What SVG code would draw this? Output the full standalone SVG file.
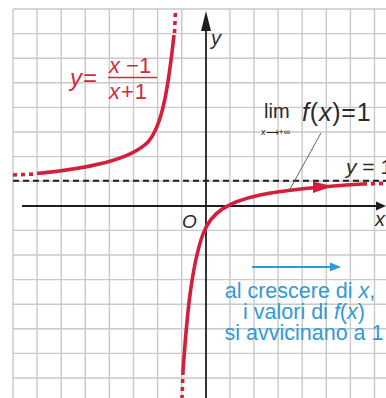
<svg xmlns="http://www.w3.org/2000/svg" width="386" height="398" viewBox="0 0 386 398">
<defs>
<style>
.grid line{stroke:#c9c9c9;stroke-width:1.4}
.axis{stroke:#1e1e1e;stroke-width:1.8;fill:none}
.curve{stroke:#d41f3c;stroke-width:3.6;fill:none;stroke-linecap:butt}
.dot{stroke:#d41f3c;stroke-width:3.6;fill:none;stroke-dasharray:4 4}
.t{font-family:"Liberation Sans",Arial,sans-serif}
.i{font-style:italic}
.red{fill:#d42a40}
.dark{fill:#2a2a2a}
.blue{fill:#3399d6}
</style>
</defs>
<rect width="386" height="398" fill="#ffffff"/>
<g id="grid" class="grid">
<line x1="13" y1="9" x2="13" y2="398"/><line x1="37.1" y1="9" x2="37.1" y2="398"/><line x1="61.2" y1="9" x2="61.2" y2="398"/><line x1="85.3" y1="9" x2="85.3" y2="398"/><line x1="109.4" y1="9" x2="109.4" y2="398"/><line x1="133.5" y1="9" x2="133.5" y2="398"/><line x1="157.6" y1="9" x2="157.6" y2="398"/><line x1="181.7" y1="9" x2="181.7" y2="398"/><line x1="229.9" y1="9" x2="229.9" y2="398"/><line x1="254" y1="9" x2="254" y2="398"/><line x1="278.1" y1="9" x2="278.1" y2="398"/><line x1="302.2" y1="9" x2="302.2" y2="398"/><line x1="326.3" y1="9" x2="326.3" y2="398"/><line x1="350.4" y1="9" x2="350.4" y2="398"/><line x1="374.5" y1="9" x2="374.5" y2="398"/>
<line x1="13" y1="9" x2="386" y2="9"/><line x1="13" y1="33.6" x2="386" y2="33.6"/><line x1="13" y1="58.2" x2="386" y2="58.2"/><line x1="13" y1="82.8" x2="386" y2="82.8"/><line x1="13" y1="107.4" x2="386" y2="107.4"/><line x1="13" y1="132" x2="386" y2="132"/><line x1="13" y1="156.6" x2="386" y2="156.6"/><line x1="13" y1="181.2" x2="386" y2="181.2"/><line x1="13" y1="230.4" x2="386" y2="230.4"/><line x1="13" y1="255" x2="386" y2="255"/><line x1="13" y1="279.6" x2="386" y2="279.6"/><line x1="13" y1="304.2" x2="386" y2="304.2"/><line x1="13" y1="328.8" x2="386" y2="328.8"/><line x1="13" y1="353.4" x2="386" y2="353.4"/><line x1="13" y1="378" x2="386" y2="378"/>
</g>
<g id="asymptote">
<line x1="13" y1="180.7" x2="386" y2="180.7" stroke="#1e1e1e" stroke-width="2" stroke-dasharray="6 4"/>
</g>
<g id="axes">
<line class="axis" x1="22" y1="206" x2="378" y2="206"/>
<polygon points="386,206 376,201.5 376,210.5" fill="#1e1e1e"/>
<line class="axis" x1="206" y1="398" x2="206" y2="28"/>
<polygon points="206,11 201,31 211,31" fill="#1e1e1e"/>
<text class="t i dark" x="211" y="45" font-size="20">y</text>
<text class="t i dark" x="375" y="226" font-size="20">x</text>
<text class="t i dark" x="182" y="228" font-size="19">O</text>
</g>
<g id="curve-left">
<path class="dot" d="M13,175 L36,174" stroke-dasharray="5 8"/>
<path class="curve" d="M37,173.5 C90,168 130,160 148,142 C162,126 168,90 174,35"/>
<path class="dot" d="M174.5,33 L175.5,11" stroke-dasharray="3.5 3"/>
</g>
<g id="curve-right">
<path class="dot" d="M183,371 L182,398"/>
<path class="curve" d="M183,371 C186,330 190,270 203,234 C211,212 228,202 260,195 C290,189 330,186 363,184"/>
<polygon points="333,186.3 313,181.5 313,193" fill="#d41f3c"/>
<path class="dot" d="M363,184 L386,183.5" stroke-dasharray="5 5"/>
</g>
<g id="formula">
<text class="t i red" x="70" y="86" font-size="24">y</text>
<text class="t red" x="83" y="86" font-size="24">=</text>
<text class="t red" x="109" y="73" font-size="22"><tspan class="i">x</tspan> −1</text>
<line x1="108" y1="77.5" x2="157" y2="77.5" stroke="#d42a40" stroke-width="1.5"/>
<text class="t red" x="109" y="99" font-size="22" letter-spacing="1"><tspan class="i">x</tspan>+1</text>
</g>
<g id="limit-label">
<text class="t dark" x="264" y="118" style="font-size:20px">lim</text>
<text class="t dark" x="261" y="135" style="font-size:9px"><tspan class="i">x</tspan>⟶+∞</text>
<text class="t dark" x="302" y="121" style="font-size:25px" letter-spacing="0.8"><tspan class="i">f</tspan>(<tspan class="i">x</tspan>)=1</text>
</g>
<g id="asymptote-label">
<text class="t dark" x="346" y="174" font-size="21"><tspan class="i">y</tspan> = 1</text>
</g>
<g id="connectors">
<line x1="321" y1="133" x2="290" y2="189" stroke="#555" stroke-width="0.9"/>
</g>
<g id="note">
<line x1="252" y1="267" x2="332" y2="267" stroke="#3399d6" stroke-width="2.2"/>
<polygon points="341,267 330,262.5 330,271.5" fill="#3399d6"/>
<text class="t blue" text-anchor="middle" font-size="21.5">
<tspan x="303" y="298">al crescere di <tspan class="i">x</tspan>,</tspan>
<tspan x="307" y="319">i valori di <tspan class="i">f</tspan>(<tspan class="i">x</tspan>)</tspan>
<tspan x="304" y="340">si avvicinano a 1</tspan>
</text>
</g>
</svg>
